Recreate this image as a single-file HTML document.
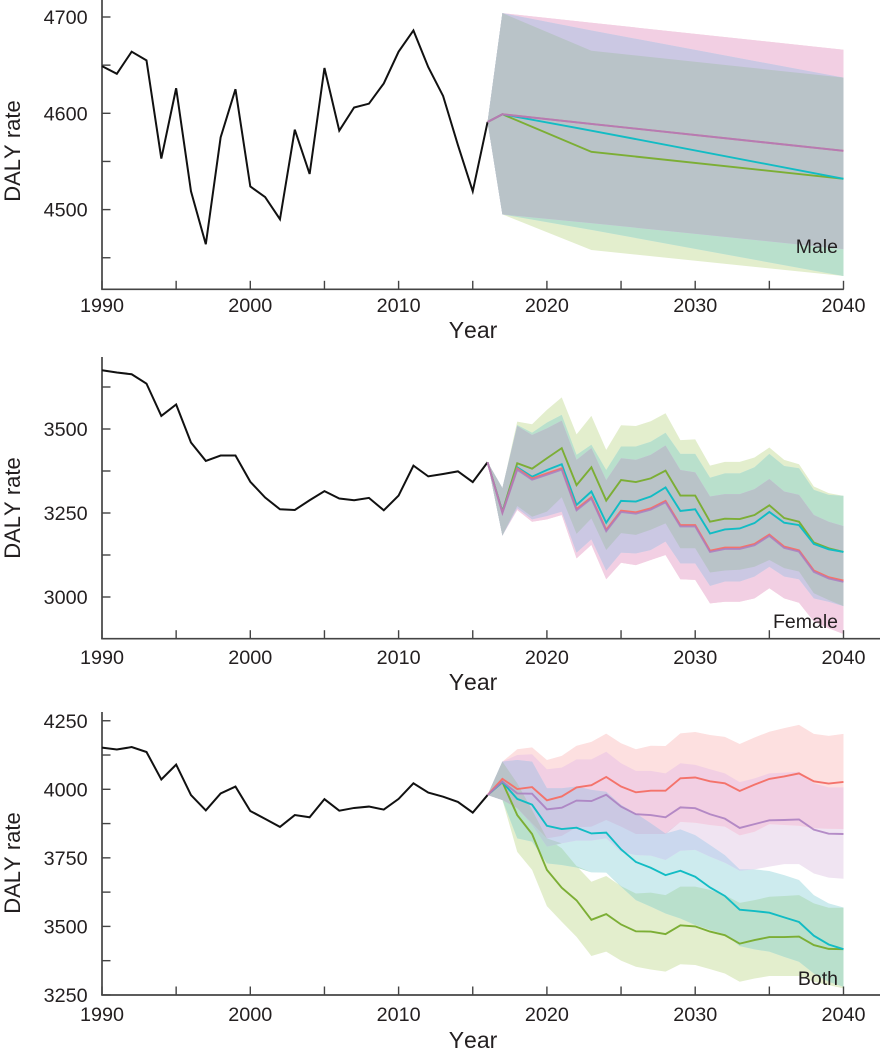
<!DOCTYPE html>
<html lang="en">
<head>
<meta charset="utf-8">
<title>DALY rate forecasts</title>
<style>
html,body{margin:0;padding:0;background:#fff;}
svg{display:block;font-family:"Liberation Sans",Arial,sans-serif;}
text{fill:#231f20;}
.tick-label{font-size:19.8px;}
.axis-title{font-size:22px;font-kerning:none;}
.x-title{font-size:23px;}
.panel-label{font-size:19.5px;text-anchor:end;}
</style>
</head>
<body>
<svg id="chart" width="881" height="1056" viewBox="0 0 881 1056" xmlns="http://www.w3.org/2000/svg">
  <g id="panel-male"></g>
  <g id="panel-female"></g>
  <g id="panel-both"></g>

  <text class="axis-title" transform="translate(20,151) rotate(-90)" text-anchor="middle">DALY rate</text>
  <text class="axis-title x-title" x="473" y="338" text-anchor="middle">Year</text>
  <text class="panel-label" x="838" y="253">Male</text>

  <text class="axis-title" transform="translate(20,508) rotate(-90)" text-anchor="middle">DALY rate</text>
  <text class="axis-title x-title" x="473" y="690" text-anchor="middle">Year</text>
  <text class="panel-label" x="838" y="628">Female</text>

  <text class="axis-title" transform="translate(20,863) rotate(-90)" text-anchor="middle">DALY rate</text>
  <text class="axis-title x-title" x="473" y="1048" text-anchor="middle">Year</text>
  <text class="panel-label" x="838" y="985">Both</text>
</svg>
<script>
// ---------- shared data ----------
const historyYears = [1990,1991,1992,1993,1994,1995,1996,1997,1998,1999,2000,2001,2002,2003,2004,2005,2006,2007,2008,2009,2010,2011,2012,2013,2014,2015,2016];
const xTickYears = [1990,1995,2000,2005,2010,2015,2020,2025,2030,2035,2040];
const xTickLabels = ["1990","","2000","","2010","","2020","","2030","","2040"];
const denseForecastYears = [2016,2017,2018,2019,2020,2021,2022,2023,2024,2025,2026,2027,2028,2029,2030,2031,2032,2033,2034,2035,2036,2037,2038,2039,2040];

// ---------- male ----------
const maleHistory = [4649,4641,4664,4655,4553,4626,4519,4464,4575,4625,4524,4513,4490,4583,4537,4647,4582,4606,4610,4631,4664,4686,4648,4618,4567,4519,4591];
const maleForecastYears = [2016,2017,2023,2040];
const maleRed = [4591,4599,4589,4561];
const malePurple = [4591,4599,4589,4561];
const maleCyan = [4591,4599,4582,4532];
const maleGreen = [4591,4599,4560,4532];
const maleRedUpper = [4591,4704,4694,4666];
const maleRedLower = [4591,4495,4486,4459];
const malePurpleUpper = [4591,4704,4694,4666];
const malePurpleLower = [4591,4495,4486,4459];
const maleCyanUpper = [4591,4704,4686,4637];
const maleCyanLower = [4591,4495,4479,4431];
const maleGreenUpper = [4591,4704,4665,4637];
const maleGreenLower = [4591,4495,4458,4431];
const maleYTicks = [4700,4650,4600,4550,4500,4450];
const maleYLabels = ["4700","","4600","","4500",""];

// ---------- female ----------
const femaleHistory = [3675,3668,3663,3635,3539,3573,3460,3405,3421,3421,3343,3296,3261,3259,3288,3315,3293,3288,3295,3258,3302,3391,3359,3366,3374,3342,3401];
const femaleRed = [3401,3252,3383,3353,3368,3383,3262,3297,3200,3257,3252,3264,3286,3214,3214,3138,3147,3147,3158,3186,3150,3139,3079,3059,3049];
const femalePurple = [3401,3250,3379,3349,3364,3379,3258,3293,3196,3253,3248,3260,3282,3210,3210,3134,3143,3143,3154,3182,3146,3135,3075,3055,3045];
const femaleCyan = [3401,3254,3386,3358,3378,3395,3274,3314,3221,3286,3284,3299,3326,3256,3261,3189,3201,3204,3220,3253,3221,3214,3158,3142,3134];
const femaleGreen = [3401,3254,3398,3382,3413,3443,3333,3386,3287,3348,3342,3353,3376,3302,3302,3224,3233,3232,3244,3273,3235,3224,3162,3145,3134];
const femaleRedUpper = [3401,3324,3509,3482,3502,3525,3408,3443,3348,3413,3408,3423,3451,3378,3371,3299,3306,3306,3321,3351,3314,3304,3244,3224,3211];
const femaleRedLower = [3401,3183,3259,3224,3231,3244,3115,3155,3053,3102,3095,3110,3125,3053,3051,2981,2986,2986,2996,3026,2996,2983,2927,2907,2890];
const femalePurpleUpper = [3401,3324,3509,3482,3502,3525,3408,3443,3348,3413,3408,3423,3451,3378,3371,3299,3306,3306,3321,3351,3314,3304,3244,3224,3211];
const femalePurpleLower = [3401,3183,3259,3224,3231,3244,3115,3155,3053,3102,3095,3110,3125,3053,3051,2981,2986,2986,2996,3026,2996,2983,2927,2907,2890];
const femaleCyanUpper = [3401,3324,3512,3489,3519,3542,3423,3453,3378,3448,3448,3462,3489,3426,3426,3355,3368,3368,3386,3426,3390,3383,3319,3304,3301];
const femaleCyanLower = [3401,3183,3264,3231,3241,3254,3132,3172,3079,3132,3130,3140,3165,3100,3100,3033,3046,3046,3061,3090,3061,3053,2996,2986,2973];
const femaleGreenUpper = [3401,3324,3522,3514,3557,3594,3484,3539,3438,3511,3509,3523,3547,3467,3469,3391,3402,3402,3415,3445,3408,3395,3329,3309,3301];
const femaleGreenLower = [3401,3183,3271,3239,3254,3297,3188,3234,3140,3190,3185,3200,3219,3145,3145,3073,3079,3081,3090,3110,3086,3076,3011,2991,2973];
const femaleYTicks = [3625,3500,3375,3250,3125,3000];
const femaleYLabels = ["","3500","","3250","","3000"];

// ---------- both ----------
const bothHistory = [4152,4145,4154,4136,4036,4090,3979,3923,3985,4010,3921,3892,3863,3906,3898,3964,3922,3932,3937,3926,3965,4022,3988,3973,3954,3915,3979];
const bothRed = [3979,4038,4001,4008,3960,3974,4007,4015,4045,4010,3989,3995,3995,4040,4043,4029,4022,3994,4017,4038,4047,4058,4029,4021,4027];
const bothPurple = [3979,4028,3985,3984,3927,3933,3959,3957,3980,3937,3909,3906,3898,3934,3931,3909,3893,3859,3873,3887,3888,3890,3853,3838,3837];
const bothCyan = [3979,4026,3965,3944,3867,3855,3860,3839,3842,3781,3735,3714,3687,3703,3681,3642,3611,3561,3556,3550,3533,3516,3466,3434,3417];
const bothGreen = [3979,4026,3906,3837,3706,3641,3595,3524,3545,3507,3482,3481,3472,3504,3500,3481,3468,3437,3450,3461,3461,3463,3432,3418,3417];
const bothRedUpper = [3979,4101,4146,4153,4107,4122,4159,4173,4203,4168,4146,4159,4158,4204,4209,4198,4191,4165,4189,4210,4223,4235,4202,4195,4202];
const bothRedLower = [3979,3961,3912,3876,3821,3830,3861,3864,3888,3864,3837,3837,3837,3881,3878,3870,3864,3832,3845,3873,3870,3867,3858,3856,3855];
const bothPurpleUpper = [3979,4101,4125,4128,4073,4079,4109,4109,4137,4095,4067,4067,4058,4095,4089,4073,4058,4026,4040,4058,4061,4064,4022,4007,4007];
const bothPurpleLower = [3979,3961,3931,3870,3791,3803,3813,3813,3821,3772,3760,3758,3742,3776,3779,3754,3732,3703,3708,3718,3727,3727,3693,3678,3674];
const bothCyanUpper = [3979,4101,4107,4101,4004,4004,4010,3998,3991,3943,3912,3876,3839,3854,3833,3797,3760,3708,3708,3702,3687,3669,3614,3584,3569];
const bothCyanLower = [3979,3961,3821,3809,3730,3724,3715,3697,3696,3645,3596,3572,3547,3529,3505,3487,3472,3428,3416,3408,3389,3371,3328,3298,3280];
const bothGreenUpper = [3979,4101,4022,3925,3821,3785,3720,3663,3684,3647,3620,3623,3614,3645,3645,3633,3614,3586,3596,3608,3611,3614,3584,3568,3568];
const bothGreenLower = [3979,3961,3772,3706,3574,3517,3462,3392,3408,3375,3353,3343,3335,3362,3359,3344,3328,3298,3310,3319,3319,3319,3298,3286,3274];
const bothYTicks = [4250,4125,4000,3875,3750,3625,3500,3375,3250];
const bothYLabels = ["4250","","4000","","3750","","3500","","3250"];

// ---------- styling ----------
const bandColors = {red:"#fde0e0",purple:"#f0e4f2",cyan:"#cdebee",green:"#e3eecd"};
const lineColors = {red:"#f4736b",purple:"#a97cc0",cyan:"#12bcc4",green:"#7cae35"};
const overlapLayers = [
  {keys:["green","cyan"],color:"#b9e0cc",name:"green-cyan"},
  {keys:["red","purple"],color:"#f2cfe3",name:"red-purple"},
  {keys:["purple","cyan"],color:"#cbd8ee",name:"purple-cyan"},
  {keys:["green","cyan","purple"],color:"#b9d0d4",name:"green-cyan-purple"},
  {keys:["red","purple","cyan"],color:"#cbc8e3",name:"red-purple-cyan"},
  {keys:["red","purple","cyan","green"],color:"#b9c3c8",name:"all-series"}
];

// ---------- axis functions ----------
const NS = "http://www.w3.org/2000/svg";
const xScale = year => 102 + (year - 1990) * 14.83;
const yMale = v => 113.3 - (v - 4600) * 0.963;
const yFemale = v => 429 - (v - 3500) * 0.336;
const yBoth = v => 789.3 - (v - 4000) * 0.2742;

function makeEl(tag, attrs, parent) {
  const el = document.createElementNS(NS, tag);
  for (const k in attrs) el.setAttribute(k, attrs[k]);
  parent.appendChild(el);
  return el;
}

function linePoints(years, values, yScale) {
  return years.map((yr, i) => xScale(yr).toFixed(2) + "," + yScale(values[i]).toFixed(2)).join(" ");
}

function bandPoints(years, upper, lower, yScale) {
  const top = years.map((yr, i) => xScale(yr).toFixed(2) + "," + yScale(upper[i]).toFixed(2));
  const bottom = years.map((yr, i) => xScale(yr).toFixed(2) + "," + yScale(lower[i]).toFixed(2)).reverse();
  return top.concat(bottom).join(" ");
}

function drawPanel(cfg) {
  const g = document.getElementById(cfg.id);

  // single-series uncertainty bands
  ["green", "cyan", "purple", "red"].forEach(key => {
    const band = makeEl("polygon", {
      points: bandPoints(cfg.years, cfg.upper[key], cfg.lower[key], cfg.y),
      fill: bandColors[key]
    }, g);
    
    
  });

  // overlaps between bands, derived from the band arrays
  overlapLayers.forEach(layer => {
    const up = [];
    const low = [];
    cfg.years.forEach((yr, i) => {
      const u = Math.min(...layer.keys.map(k => cfg.upper[k][i]));
      const l = Math.max(...layer.keys.map(k => cfg.lower[k][i]));
      up.push(Math.max(u, l));
      low.push(l);
    });
    const overlap = makeEl("polygon", {
      points: bandPoints(cfg.years, up, low, cfg.y),
      fill: layer.color
    }, g);
    
    
  });

  // axes
  const yAxis = makeEl("line", {x1:102, x2:102, y1:cfg.axisTop, y2:cfg.baseline, stroke:"#444", "stroke-width":1.7}, g);
  
  
  const xAxis = makeEl("line", {x1:101.2, x2:cfg.axisRight, y1:cfg.baseline, y2:cfg.baseline, stroke:"#444", "stroke-width":1.7}, g);
  
  

  xTickYears.forEach((yr, i) => {
    const tick = makeEl("line", {x1:xScale(yr), x2:xScale(yr), y1:cfg.baseline, y2:cfg.baseline - 8.5, stroke:"#444", "stroke-width":1.4}, g);
    
    
    if (xTickLabels[i]) {
      const label = makeEl("text", {x:xScale(yr), y:cfg.xLabelY, "text-anchor":"middle", "class":"tick-label"}, g);
      label.textContent = xTickLabels[i];
      
      
    }
  });

  cfg.yTicks.forEach((v, i) => {
    const py = cfg.y(v);
    const tick = makeEl("line", {x1:102, x2:110.5, y1:py, y2:py, stroke:"#444", "stroke-width":1.4}, g);
    
    
    if (cfg.yLabels[i]) {
      const label = makeEl("text", {x:87.7, y:py + 7.1, "text-anchor":"end", "class":"tick-label"}, g);
      label.textContent = cfg.yLabels[i];
      
      
    }
  });

  // history line
  const hist = makeEl("polyline", {
    points: linePoints(historyYears, cfg.history, cfg.y),
    fill:"none", stroke:"#111", "stroke-width":2
  }, g);
  
  

  // forecast lines
  ["green", "cyan", "red", "purple"].forEach(key => {
    const ln = makeEl("polyline", {
      points: linePoints(cfg.years, cfg.lines[key], cfg.y),
      fill:"none", stroke:lineColors[key], "stroke-width":1.9,
      "stroke-opacity": key === "purple" ? 0.85 : 1
    }, g);
    
    
  });
}

drawPanel({
  id:"panel-male", prefix:"male", y:yMale, axisTop:0, baseline:289.3, axisRight:843.8, xLabelY:312,
  years:maleForecastYears, history:maleHistory, yTicks:maleYTicks, yLabels:maleYLabels,
  lines:{red:maleRed, purple:malePurple, cyan:maleCyan, green:maleGreen},
  upper:{red:maleRedUpper, purple:malePurpleUpper, cyan:maleCyanUpper, green:maleGreenUpper},
  lower:{red:maleRedLower, purple:malePurpleLower, cyan:maleCyanLower, green:maleGreenLower}
});

drawPanel({
  id:"panel-female", prefix:"female", y:yFemale, axisTop:357, baseline:638.7, axisRight:880, xLabelY:664,
  years:denseForecastYears, history:femaleHistory, yTicks:femaleYTicks, yLabels:femaleYLabels,
  lines:{red:femaleRed, purple:femalePurple, cyan:femaleCyan, green:femaleGreen},
  upper:{red:femaleRedUpper, purple:femalePurpleUpper, cyan:femaleCyanUpper, green:femaleGreenUpper},
  lower:{red:femaleRedLower, purple:femalePurpleLower, cyan:femaleCyanLower, green:femaleGreenLower}
});

drawPanel({
  id:"panel-both", prefix:"both", y:yBoth, axisTop:712, baseline:995, axisRight:880, xLabelY:1021,
  years:denseForecastYears, history:bothHistory, yTicks:bothYTicks, yLabels:bothYLabels,
  lines:{red:bothRed, purple:bothPurple, cyan:bothCyan, green:bothGreen},
  upper:{red:bothRedUpper, purple:bothPurpleUpper, cyan:bothCyanUpper, green:bothGreenUpper},
  lower:{red:bothRedLower, purple:bothPurpleLower, cyan:bothCyanLower, green:bothGreenLower}
});

// keep panel labels above the drawn panels
const chartRoot = document.getElementById("chart");
chartRoot.querySelectorAll(":scope > text").forEach(t => chartRoot.appendChild(t));
</script>
</body>
</html>
